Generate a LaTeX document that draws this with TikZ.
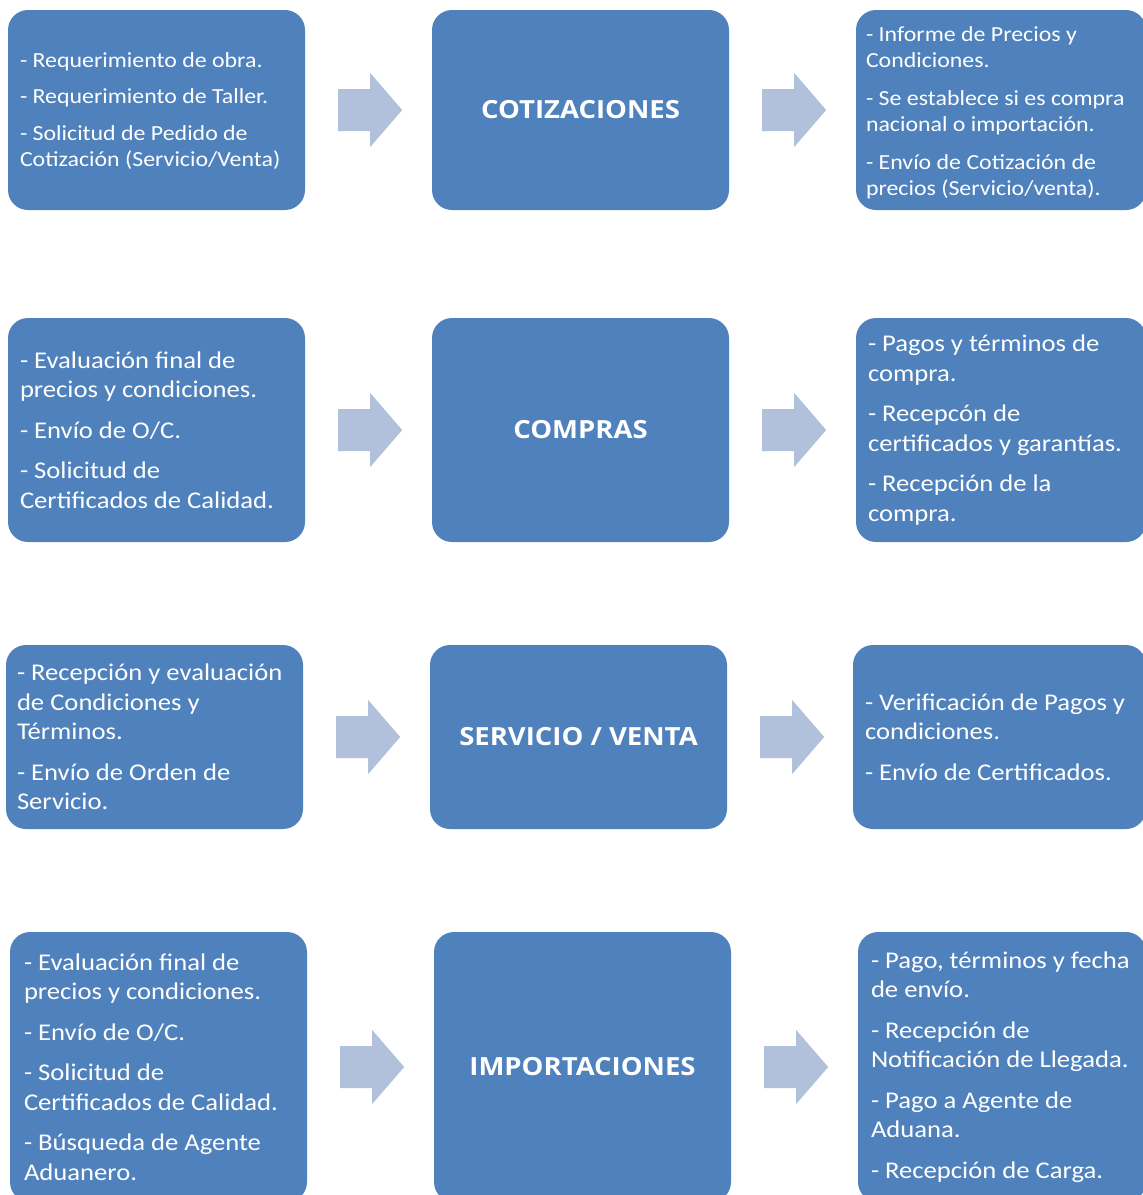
\documentclass[tikz,border=0pt]{standalone}
\usepackage{fontspec}
\setmainfont{Carlito}[FakeStretch=1.11]
\newfontfamily\titlefont{Open Sans}[FakeStretch=1.1]
\usetikzlibrary{calc}
\definecolor{boxblue}{HTML}{4F81BD}
\definecolor{arrowblue}{HTML}{B2C1DB}
\tikzset{
  box/.style={fill=boxblue, draw=none, rounded corners=20pt, inner sep=0pt},
  note/.style={anchor=west, align=left, text=white, inner sep=0pt},
  smallnote/.style={note, font=\fontsize{21.5}{26.5}\selectfont},
  bignote/.style={note, font=\fontsize{24}{29.5}\selectfont},
  title/.style={text=white, font=\titlefont\bfseries\fontsize{25}{30}\selectfont},
  blockarrow/.style={fill=arrowblue, draw=none}
}
% block arrow between two boxes: #1 source box, #2 target box
\newcommand{\blockarrow}[2]{%
  \fill[blockarrow]
    ($(#1.east)+(33,-21)$) -- ($(#1.east)+(65,-21)$) -- ($(#1.east)+(65,-37)$)
    -- ($(#1.east)+(97,0)$) -- ($(#1.east)+(65,37)$) -- ($(#1.east)+(65,21)$)
    -- ($(#1.east)+(33,21)$) -- cycle;}
\begin{document}
\begin{tikzpicture}[x=1pt,y=-1pt]
\useasboundingbox (0,0) rectangle (1143,1195);
\clip (0,0) rectangle (1143,1195);

% ---- row 1: cotizaciones
\node[box, minimum width=297pt, minimum height=200pt] (l1) at (156.5,110) {};
\node[box, minimum width=297pt, minimum height=200pt] (m1) at (580.5,110) {};
\node[box, minimum width=290pt, minimum height=200pt] (r1) at (1001,110) {};
\node[smallnote] (tl1) at ($(l1.west)+(12,1)$) {- Requerimiento de obra.\\[10pt]- Requerimiento de Taller.\\[10pt]- Solicitud de Pedido de\\Cotización (Servicio/Venta)};
\node[title] (tm1) at (m1.center) {COTIZACIONES};
\node[smallnote] (tr1) at ($(r1.west)+(10,3)$) {- Informe de Precios y\\Condiciones.\\[11pt]- Se establece si es compra\\nacional o importación.\\[11pt]- Envío de Cotización de\\precios (Servicio/venta).};
\blockarrow{l1}{m1}
\blockarrow{m1}{r1}

% ---- row 2: compras
\node[box, minimum width=297pt, minimum height=224pt] (l2) at (156.5,430) {};
\node[box, minimum width=297pt, minimum height=224pt] (m2) at (580.5,430) {};
\node[box, minimum width=290pt, minimum height=224pt] (r2) at (1001,430) {};
\node[bignote] (tl2) at ($(l2.west)+(12,0)$) {- Evaluación final de\\precios y condiciones.\\[11pt]- Envío de O/C.\\[11pt]- Solicitud de\\Certificados de Calidad.};
\node[title] (tm2) at (m2.center) {COMPRAS};
\node[bignote] (tr2) at ($(r2.west)+(12,0)$) {- Pagos y términos de\\compra.\\[11pt]- Recepcón de\\certificados y garantías.\\[11pt]- Recepción de la\\compra.};
\blockarrow{l2}{m2}
\blockarrow{m2}{r2}

% ---- row 3: servicio / venta
\node[box, minimum width=297pt, minimum height=184pt] (l3) at (154.5,737) {};
\node[box, minimum width=297pt, minimum height=184pt] (m3) at (578.5,737) {};
\node[box, minimum width=293pt, minimum height=184pt] (r3) at (999.5,737) {};
\node[bignote] (tl3) at ($(l3.west)+(11,0)$) {- Recepción y evaluación\\de Condiciones y\\Términos.\\[11pt]- Envío de Orden de\\Servicio.};
\node[title] (tm3) at (m3.center) {SERVICIO / VENTA};
\node[bignote] (tr3) at ($(r3.west)+(12,0)$) {- Verificación de Pagos y\\condiciones.\\[11pt]- Envío de Certificados.};
\blockarrow{l3}{m3}
\blockarrow{m3}{r3}

% ---- row 4: importaciones
\node[box, minimum width=297pt, minimum height=270pt] (l4) at (158.5,1067) {};
\node[box, minimum width=297pt, minimum height=270pt] (m4) at (582.5,1067) {};
\node[box, minimum width=288pt, minimum height=270pt] (r4) at (1002,1067) {};
\node[bignote] (tl4) at ($(l4.west)+(14,0)$) {- Evaluación final de\\precios y condiciones.\\[11pt]- Envío de O/C.\\[11pt]- Solicitud de\\Certificados de Calidad.\\[11pt]- Búsqueda de Agente\\Aduanero.};
\node[title] (tm4) at (m4.center) {IMPORTACIONES};
\node[bignote] (tr4) at ($(r4.west)+(13,0)$) {- Pago, términos y fecha\\de envío.\\[11pt]- Recepción de\\Notificación de Llegada.\\[11pt]- Pago a Agente de\\Aduana.\\[11pt]- Recepción de Carga.};
\blockarrow{l4}{m4}
\blockarrow{m4}{r4}
\end{tikzpicture}
\end{document}
